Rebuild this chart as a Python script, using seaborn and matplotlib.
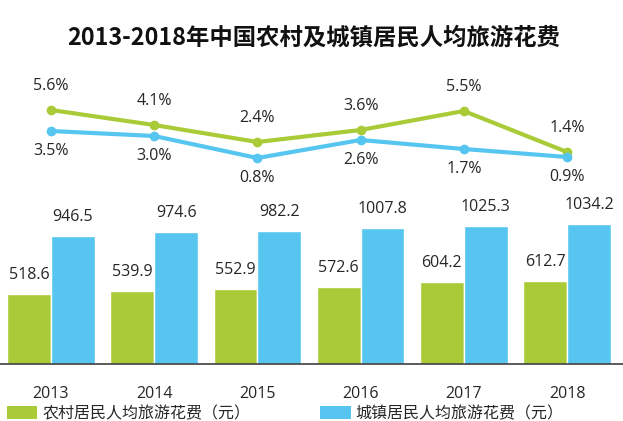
import numpy as np
import pandas as pd
import matplotlib
matplotlib.use("Agg")
import matplotlib.pyplot as plt
from matplotlib.patches import Patch
import seaborn as sns

years = ["2013", "2014", "2015", "2016", "2017", "2018"]
rural_spend = [518.6, 539.9, 552.9, 572.6, 604.2, 612.7]
urban_spend = [946.5, 974.6, 982.2, 1007.8, 1025.3, 1034.2]
rural_growth = [5.6, 4.1, 2.4, 3.6, 5.5, 1.4]
urban_growth = [3.5, 3.0, 0.8, 2.6, 1.7, 0.9]
series_names = ["农村居民人均旅游花费（元）", "城镇居民人均旅游花费（元）"]
title = "2013-2018年中国农村及城镇居民人均旅游花费"

GREEN = "#A9CB38"
BLUE = "#56C6F0"
TEXT = "#262626"

sns.set_theme(style="white")
plt.rcParams["font.family"] = ["Open Sans", "Noto Sans CJK SC", "DejaVu Sans"]

df = pd.DataFrame({
    "year": years * 2,
    "value": rural_spend + urban_spend,
    "type": [series_names[0]] * len(years) + [series_names[1]] * len(years),
})

W, H = 623, 421
fig = plt.figure(figsize=(W / 100, H / 100), dpi=100)
base_px = 364
top_px = 70
ax = fig.add_axes([0, (H - base_px) / H, 1, (base_px - top_px) / H])

sns.barplot(data=df, x="year", y="value", hue="type", hue_order=series_names,
            palette=[GREEN, BLUE], width=0.85, saturation=1, ax=ax, legend=False)

span_px = base_px - top_px
ax.set_ylim(0, span_px / 0.135)
step = 103.2
c0 = 51
ax.set_xlim(-c0 / step, (W - c0) / step)

for container in ax.containers:
    for rect in container:
        x = rect.get_x() + rect.get_width() / 2
        y = rect.get_height()
        ax.annotate(f"{y:.1f}", (x, y), xytext=(0, 19), textcoords="offset pixels",
                    ha="center", va="center", fontsize=11.5, color=TEXT)

ax.set_xlabel("")
ax.set_ylabel("")
ax.set_yticks([])
ax.tick_params(axis="x", length=0, pad=15.5, labelsize=11.5, labelcolor=TEXT)
for s in ["top", "right", "left"]:
    ax.spines[s].set_visible(False)
ax.spines["bottom"].set_color("#404040")
ax.spines["bottom"].set_linewidth(1.2)

ax2 = ax.twinx()
xs = np.arange(len(years))
sns.lineplot(x=xs, y=rural_growth, color=GREEN, lw=3, marker="o", markersize=7,
             markeredgewidth=0, ax=ax2)
sns.lineplot(x=xs, y=urban_growth, color=BLUE, lw=3, marker="o", markersize=7,
             markeredgewidth=0, ax=ax2)
ax2.set_ylim((166 - base_px) / 10, (166 - top_px) / 10)
ax2.set_yticks([])
ax2.set_ylabel("")
for s in ax2.spines.values():
    s.set_visible(False)
for x, v in zip(xs, rural_growth):
    ax2.annotate(f"{v:.1f}%", (x, v), xytext=(0, 24), textcoords="offset pixels",
                 ha="center", va="center", fontsize=11.5, color=TEXT)
for x, v in zip(xs, urban_growth):
    ax2.annotate(f"{v:.1f}%", (x, v), xytext=(0, -20), textcoords="offset pixels",
                 ha="center", va="center", fontsize=11.5, color=TEXT)
ax.set_xlim(-c0 / step, (W - c0) / step)

fig.text(0.503, 1 - 38 / H, title, ha="center", va="center", fontsize=16.8,
         fontweight="bold", color="#111111", family=["Noto Sans CJK SC", "DejaVu Sans"])

handles = [Patch(facecolor=GREEN, edgecolor="none"), Patch(facecolor=BLUE, edgecolor="none")]
fig.legend(handles, series_names, loc="upper left", bbox_to_anchor=(7 / W, 1 - 406 / H),
           ncol=2, frameon=False, fontsize=11.5, handlelength=1.9, handleheight=0.8,
           handletextpad=0.3, columnspacing=4.4, borderpad=0, borderaxespad=0,
           labelcolor=TEXT)

fig.savefig("out.png", dpi=100)
